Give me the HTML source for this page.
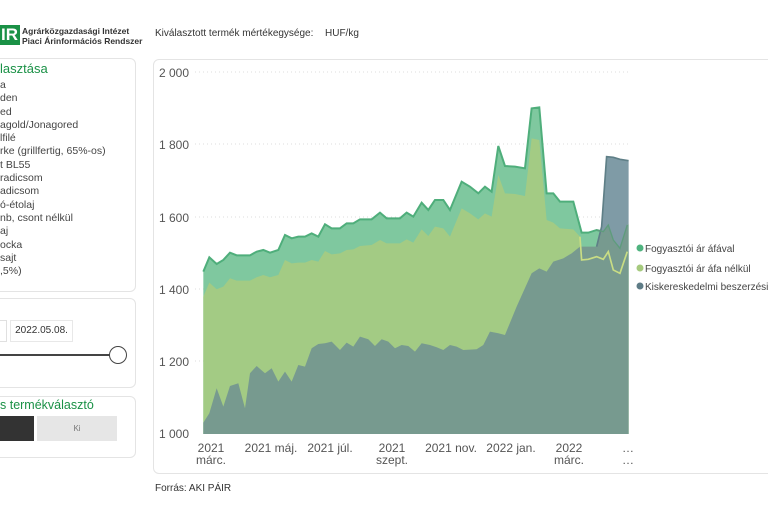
<!DOCTYPE html><html><head><meta charset="utf-8"><style>
body{margin:0;width:768px;height:512px;background:#fff;font-family:"Liberation Sans",sans-serif;position:relative;overflow:hidden;color:#333}
.a{position:absolute}
.card{position:absolute;border:1px solid #e4e4e4;border-radius:6px;background:#fff}
.li{font-size:10.5px;color:#444;line-height:13.3px}
</style></head><body>
<div class="a" style="left:-20px;top:25px;width:38px;height:20px;background:#1a9146;color:#fff;font-weight:bold;font-size:17px;line-height:20px;text-align:right;padding-right:2px">IR</div>
<div class="a" style="left:22px;top:26px;font-size:8.5px;font-weight:bold;color:#333;line-height:10px">Agrárközgazdasági Intézet<br>Piaci Árinformációs Rendszer</div>
<div class="a" style="left:155px;top:28px;font-size:10px;color:#333">Kiválasztott termék mértékegysége:</div>
<div class="a" style="left:325px;top:28px;font-size:10px;color:#333">HUF/kg</div>
<div class="card" style="left:-10px;top:58px;width:144px;height:232px"></div>
<div class="a" style="left:0;top:61px;font-size:13px;color:#1a9146">lasztása</div>
<div class="a li" style="left:0;top:79px">a<br>den<br>ed<br>agold/Jonagored<br>lfilé<br>rke (grillfertig, 65%-os)<br>t BL55<br>radicsom<br>adicsom<br>ó-étolaj<br>nb, csont nélkül<br>aj<br>ocka<br>sajt<br>,5%)</div>
<div class="card" style="left:-10px;top:298px;width:144px;height:88px"></div>
<div class="a" style="left:-10px;top:320px;width:15px;height:20px;border:1px solid #e0e0e0"></div>
<div class="a" style="left:10px;top:320px;width:61px;height:20px;border:1px solid #e8e8e8;font-size:10px;line-height:20px;text-align:center">2022.05.08.</div>
<div class="a" style="left:0;top:354px;width:110px;height:2px;background:#444"></div>
<div class="a" style="left:109px;top:346px;width:16px;height:16px;border:1.5px solid #444;border-radius:50%;background:#fff"></div>
<div class="card" style="left:-10px;top:396px;width:144px;height:60px"></div>
<div class="a" style="left:0;top:398px;font-size:12.5px;color:#1a9146">s termékválasztó</div>
<div class="a" style="left:0;top:416px;width:34px;height:25px;background:#333"></div>
<div class="a" style="left:37px;top:416px;width:80px;height:25px;background:#e6e6e6;font-size:8px;color:#777;text-align:center;line-height:25px">Ki</div>
<div class="card" style="left:153px;top:59px;width:640px;height:413px"></div>
<svg class="a" style="left:0;top:0" width="768" height="512">
<g stroke="#ddd" stroke-dasharray="1,3" stroke-width="1">
<line x1="195" x2="630" y1="72" y2="72"/><line x1="195" x2="630" y1="144" y2="144"/><line x1="195" x2="630" y1="217" y2="217"/><line x1="195" x2="630" y1="289" y2="289"/><line x1="195" x2="630" y1="361" y2="361"/></g>
<g font-size="12" fill="#555" text-anchor="end"><text x="189" y="77">2 000</text><text x="189" y="149">1 800</text><text x="189" y="222">1 600</text><text x="189" y="294">1 400</text><text x="189" y="366">1 200</text><text x="189" y="438">1 000</text></g>
<g font-size="12" fill="#555" text-anchor="middle"><text x="211" y="452">2021</text><text x="211" y="464">márc.</text><text x="271" y="452">2021 máj.</text><text x="330" y="452">2021 júl.</text><text x="392" y="452">2021</text><text x="392" y="464">szept.</text><text x="451" y="452">2021 nov.</text><text x="511" y="452">2022 jan.</text><text x="569" y="452">2022</text><text x="569" y="464">márc.</text><text x="628" y="452">…</text><text x="628" y="464">…</text></g>
<g transform="translate(150,60) scale(0.3333)">
<polygon fill="#7fc89f" points="160,1122 160,635 178,592 200,612 220,600 240,578 260,586 300,586 320,575 340,570 360,578 385,570 405,525 425,535 445,530 465,530 485,520 505,530 525,493 545,505 570,505 590,490 610,490 630,478 665,478 690,458 710,475 750,475 770,458 790,470 815,428 835,450 855,420 880,420 900,450 935,365 960,380 985,400 1005,380 1025,395 1045,258 1065,318 1095,320 1125,325 1145,145 1168,142 1190,400 1210,400 1230,425 1270,425 1295,518 1315,518 1340,510 1360,515 1375,495 1390,540 1410,565 1432,495 1436,492 1436,1122"/>
<polyline fill="none" stroke="#4fae7b" stroke-width="6" points="160,635 178,592 200,612 220,600 240,578 260,586 300,586 320,575 340,570 360,578 385,570 405,525 425,535 445,530 465,530 485,520 505,530 525,493 545,505 570,505 590,490 610,490 630,478 665,478 690,458 710,475 750,475 770,458 790,470 815,428 835,450 855,420 880,420 900,450 935,365 960,380 985,400 1005,380 1025,395 1045,258 1065,318 1095,320 1125,325 1145,145 1168,142 1190,400 1210,400 1230,425 1270,425 1295,518 1315,518 1340,510 1360,515 1375,495 1390,540 1410,565 1432,495"/>
<polygon fill="#a3cb84" points="160,1122 160,710 178,668 200,688 220,680 240,655 260,662 300,662 320,652 340,645 360,652 385,645 405,600 425,610 445,608 465,608 485,600 505,605 525,573 545,583 570,580 590,570 610,568 630,558 665,555 690,540 710,550 750,550 770,538 790,548 815,508 835,528 855,500 880,505 900,530 935,445 960,460 985,478 1005,460 1025,470 1045,345 1065,400 1095,402 1125,408 1145,235 1168,240 1190,480 1210,488 1230,505 1270,508 1290,530 1295,600 1315,598 1340,590 1360,598 1375,575 1390,630 1410,640 1432,575 1436,575 1436,1122"/>
<polygon fill="#779a8f" points="160,1122 160,1088 178,1060 200,985 220,1040 240,978 265,970 285,1045 300,940 320,918 345,940 365,925 385,965 405,935 425,965 445,915 465,920 485,865 505,852 525,850 545,845 570,870 590,848 610,860 630,830 655,838 675,858 695,838 715,845 735,865 755,855 775,858 795,875 815,850 840,855 860,862 880,870 900,855 920,860 940,870 980,868 1000,855 1020,815 1045,820 1065,825 1100,740 1145,640 1168,625 1190,635 1210,605 1240,595 1265,580 1290,560 1315,560 1340,560 1355,510 1360,515 1375,495 1390,540 1410,565 1432,495 1436,492 1436,1122"/>
<polygon fill="#7f9ba6" points="1340,560 1355,500 1370,290 1390,292 1410,298 1436,302 1436,492 1432,495 1410,565 1390,540 1375,495 1360,515 1355,510"/>
<polyline fill="none" stroke="#5f7f87" stroke-width="5" points="1340,560 1355,500 1370,290 1390,292 1410,298 1436,302"/>
<polyline fill="none" stroke="#c9dd84" stroke-width="5" points="1290,530 1295,600 1315,598 1340,590 1360,598 1375,575 1390,630 1410,640 1432,575"/>
<polyline fill="none" stroke="#5e9c7c" stroke-width="4" points="1340,510 1360,515 1375,495 1390,540 1410,565 1432,495"/>
</g>
<g font-size="10" fill="#444"><circle cx="640" cy="248" r="3.5" fill="#4fb37f"/><text x="645" y="252">Fogyasztói ár áfával</text>
<circle cx="640" cy="268" r="3.5" fill="#a6ca7e"/><text x="645" y="272">Fogyasztói ár áfa nélkül</text>
<circle cx="640" cy="286" r="3.5" fill="#5e7c86"/><text x="645" y="290">Kiskereskedelmi beszerzési á</text></g>
</svg>
<div class="a" style="left:155px;top:483px;font-size:10px;color:#333">Forrás: AKI PÁIR</div>
</body></html>
